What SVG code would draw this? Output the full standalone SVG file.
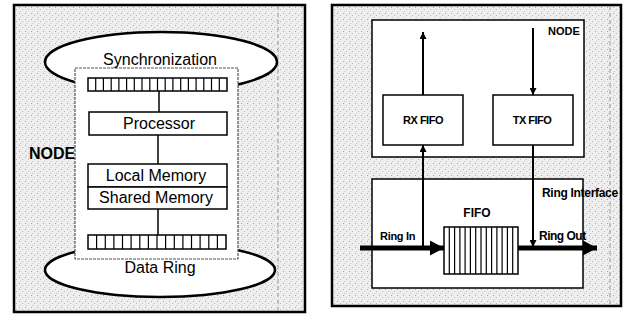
<svg xmlns="http://www.w3.org/2000/svg" width="627" height="322" viewBox="0 0 627 322">
<defs>
<pattern id="speck" width="6" height="6" patternUnits="userSpaceOnUse">
<rect width="6" height="6" fill="#eeeeee"/>
<rect x="1" y="1" width="1" height="1" fill="#aaaaaa"/>
<rect x="4" y="3" width="1" height="1" fill="#bbbbbb"/>
<rect x="2" y="5" width="1" height="1" fill="#c8c8c8"/>
</pattern>
<marker id="ah" viewBox="0 0 10 10" refX="10" refY="5" markerWidth="7" markerHeight="7" markerUnits="userSpaceOnUse" orient="auto">
<path d="M0,0 L10,5 L0,10 z" fill="#000"/>
</marker>
<marker id="bigah" viewBox="0 0 10 10" refX="10" refY="5" markerWidth="14" markerHeight="15" markerUnits="userSpaceOnUse" orient="auto" preserveAspectRatio="none">
<path d="M0,0 L10,5 L0,10 z" fill="#000"/>
</marker>
</defs>
<style>
.panel{fill:url(#speck);stroke:#000;stroke-width:2.5}
.scan{stroke:#999;stroke-width:1;stroke-dasharray:4 3;fill:none}
.ell{fill:#fff;stroke:#000;stroke-width:2.5}
.inner{fill:#fff;stroke:#555;stroke-width:1.2;stroke-dasharray:3 1}
.box{fill:#fff;stroke:#000;stroke-width:1.5}
.cell{stroke:#000;stroke-width:1.2}
.lbl{font-family:"Liberation Sans",Arial,sans-serif;font-size:16px;fill:#000;text-anchor:middle}
.blbl{font-family:"Liberation Sans",Arial,sans-serif;font-weight:bold;fill:#000}
.ln{stroke:#000;stroke-width:1.5;fill:none}
.arr{stroke:#000;stroke-width:2;fill:none;marker-end:url(#ah)}
.ring{stroke:#000;stroke-width:5;fill:none;marker-end:url(#bigah)}
</style>

<!-- LEFT PANEL -->
<g id="left-panel">
<rect class="panel" x="14" y="5" width="291" height="307"/>
<line class="scan" x1="278" y1="6" x2="278" y2="311"/>
</g>
<g id="sync-ring">
<ellipse class="ell" cx="161" cy="62" rx="116" ry="30"/>
</g>
<g id="data-ring">
<ellipse class="ell" cx="160" cy="270" rx="115" ry="27"/>
</g>
<g id="node-label">
<text class="blbl" x="29" y="159" font-size="16">NODE</text>
</g>
<g id="node-box">
<rect class="inner" x="75" y="68" width="163" height="191"/>
</g>
<g id="sync-text">
<text class="lbl" x="160" y="65">Synchronization</text>
</g>
<g id="data-ring-text">
<text class="lbl" x="160" y="273">Data Ring</text>
</g>
<g id="top-register">
<rect class="box" x="88" y="78" width="139" height="13"/>
<path class="cell" d="M95.7,78V91M103.4,78V91M111.2,78V91M118.9,78V91M126.6,78V91M134.3,78V91M142,78V91M149.8,78V91M157.5,78V91M165.2,78V91M172.9,78V91M180.7,78V91M188.4,78V91M196.1,78V91M203.8,78V91M211.5,78V91M219.3,78V91"/>
</g>
<g id="processor">
<rect class="box" x="89" y="112" width="138" height="23"/>
<text class="lbl" x="159" y="129">Processor</text>
</g>
<g id="local-memory">
<rect class="box" x="88" y="164" width="139" height="23"/>
<text class="lbl" x="156" y="181">Local Memory</text>
</g>
<g id="shared-memory">
<rect class="box" x="88" y="187" width="139" height="22"/>
<text class="lbl" x="156" y="203">Shared Memory</text>
</g>
<g id="bottom-register">
<rect class="box" x="88" y="235" width="138" height="14"/>
<path class="cell" d="M96.6,235V249M105.3,235V249M113.9,235V249M122.5,235V249M131.1,235V249M139.8,235V249M148.4,235V249M157,235V249M165.6,235V249M174.3,235V249M182.9,235V249M191.5,235V249M200.1,235V249M208.8,235V249M217.4,235V249"/>
</g>

<!-- RIGHT PANEL -->
<g id="right-panel">
<rect class="panel" x="332" y="5" width="289" height="301"/>
<line class="scan" x1="610" y1="6" x2="610" y2="305"/>
</g>
<g id="node-r">
<rect class="box" x="372" y="20" width="212" height="137" stroke-width="2"/>
<text class="blbl" x="548" y="35" font-size="11">NODE</text>
</g>
<g id="rx-fifo">
<rect class="box" x="383" y="95" width="80" height="50"/>
<text class="blbl" x="423" y="124" font-size="11" text-anchor="middle" letter-spacing="-0.5">RX FIFO</text>
</g>
<g id="tx-fifo">
<rect class="box" x="493" y="95" width="80" height="50"/>
<text class="blbl" x="532" y="124" font-size="11" text-anchor="middle" letter-spacing="-0.5">TX FIFO</text>
</g>
<g id="ring-interface">
<rect class="box" x="372" y="179" width="211" height="109" stroke-width="2"/>
<text class="blbl" x="542" y="197" font-size="12" letter-spacing="-0.3">Ring Interface</text>
</g>
<g id="fifo">
<text class="blbl" x="477" y="217" font-size="12" text-anchor="middle">FIFO</text>
<rect class="box" x="444" y="227" width="74" height="47"/>
<path class="cell" d="M449.3,227V274M454.6,227V274M459.9,227V274M465.1,227V274M470.4,227V274M475.7,227V274M481,227V274M486.3,227V274M491.6,227V274M496.9,227V274M502.1,227V274M507.4,227V274M512.7,227V274"/>
</g>
<g id="ring-labels">
<text class="blbl" x="380" y="240" font-size="11" letter-spacing="-0.3">Ring In</text>
<text class="blbl" x="539" y="240" font-size="12" letter-spacing="-0.5">Ring Out</text>
</g>

<!-- CONNECTORS -->
<g id="connectors">
<line class="ln" x1="159" y1="91" x2="159" y2="112"/>
<line class="ln" x1="158" y1="135" x2="158" y2="164"/>
<line class="ln" x1="158" y1="209" x2="158" y2="235"/>
<line class="arr" x1="423" y1="95" x2="423" y2="32"/>
<line class="arr" x1="533" y1="28" x2="533" y2="95"/>
<line class="arr" x1="423" y1="248" x2="423" y2="145"/>
<line class="arr" x1="533" y1="145" x2="533" y2="247"/>
<line class="ring" x1="360" y1="248" x2="444" y2="248"/>
<line class="ring" x1="518" y1="248" x2="597" y2="248"/>
</g>
</svg>
